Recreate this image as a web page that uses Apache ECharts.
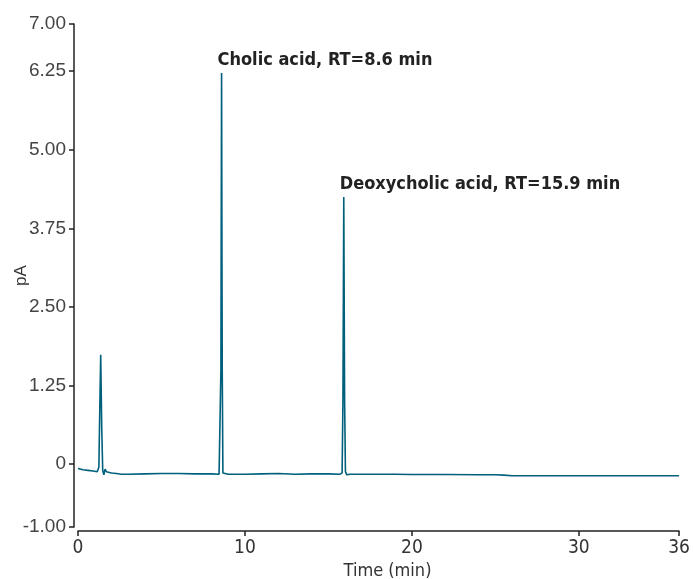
<!DOCTYPE html>
<html><head><meta charset="utf-8">
<script src="https://cdn.jsdelivr.net/npm/echarts@6/dist/echarts.min.js"></script>
<style>html,body{margin:0;padding:0;background:#fff}#c{width:693px;height:579px}</style>
</head><body><div id="c"></div>
<script>
// Retention time (min)
const time = [0, 0.3, 0.6, 0.9, 1.15, 1.25, 1.3, 1.36, 1.42, 1.48, 1.55, 1.62, 1.7, 1.8, 2.0, 2.3, 2.6, 3.0, 4, 5, 6, 7, 8,
  8.45, 8.52, 8.56, 8.6, 8.64, 8.68, 8.75, 9, 10, 11, 12, 13, 14, 15,
  15.7, 15.82, 15.87, 15.92, 15.97, 16.02, 16.1, 16.3, 17, 18, 19, 20, 22, 24, 25, 25.5, 26, 27, 28, 30, 32, 34, 36];
// Detector signal (pA)
const signal = [-0.07, -0.09, -0.10, -0.11, -0.12, -0.05, 0.8, 1.74, 0.6, -0.10, -0.17, -0.08, -0.12, -0.10, -0.14, -0.15, -0.16, -0.16, -0.155, -0.15, -0.15, -0.155, -0.155,
  -0.16, -0.14, 1.5, 6.22, 1.5, -0.14, -0.16, -0.16, -0.16, -0.155, -0.15, -0.16, -0.155, -0.155,
  -0.16, -0.14, 1.0, 4.25, 1.0, -0.12, -0.17, -0.16, -0.16, -0.16, -0.16, -0.165, -0.165, -0.17, -0.17, -0.175, -0.185, -0.185, -0.185, -0.185, -0.185, -0.185, -0.185];
const yTicks = [-1, 0, 1.25, 2.5, 3.75, 5, 6.25, 7];
const xTicks = [0, 10, 20, 30, 36];
const peakNames = ['Cholic acid, RT=8.6 min', 'Deoxycholic acid, RT=15.9 min'];
const peakTimes = [8.6, 15.92];
const peakHeights = [6.22, 4.25];

const data = time.map((t, i) => [t, signal[i]]);
const narrow = '"Liberation Sans Narrow", "DejaVu Sans Condensed", "Roboto", sans-serif';
const regular = '"Liberation Sans", Arial, sans-serif';
const chart = echarts.init(document.getElementById('c'), null, {renderer: 'canvas'});
chart.setOption({
  animation: false,
  backgroundColor: '#fff',
  grid: {left: 78, right: 14, top: 24, bottom: 52, containLabel: false, outerBoundsMode: 'none'},
  xAxis: {
    type: 'value', min: 0, max: 36, offset: 4,
    name: 'Time (min)', nameLocation: 'middle', nameGap: 31, nameMoveOverlap: false,
    nameTextStyle: {fontFamily: narrow, fontSize: 18, color: '#333', padding: [0, 0, 0, 18]},
    axisLine: {show: true, onZero: false, lineStyle: {color: '#222', width: 1.5}},
    axisTick: {show: true, length: 5, customValues: xTicks, lineStyle: {color: '#222', width: 1.5}},
    axisLabel: {customValues: xTicks, fontFamily: narrow, fontSize: 19, color: '#333', margin: 8},
    splitLine: {show: false}
  },
  yAxis: {
    type: 'value', min: -1, max: 7, offset: 4,
    name: 'pA', nameLocation: 'middle', nameGap: 44, nameRotate: 90, nameMoveOverlap: false,
    nameTextStyle: {fontFamily: regular, fontSize: 17, color: '#333'},
    axisLine: {show: true, onZero: false, lineStyle: {color: '#222', width: 1.5}},
    axisTick: {show: true, length: 5, customValues: yTicks, lineStyle: {color: '#222', width: 1.5}},
    axisLabel: {customValues: yTicks, fontFamily: regular, fontSize: 19, color: '#444', margin: 8,
      formatter: v => v === 0 ? '0' : v.toFixed(2)},
    splitLine: {show: false}
  },
  series: [{
    type: 'line', data: data, showSymbol: false, symbol: 'none',
    lineStyle: {color: '#00607c', width: 1.6},
    markPoint: {
      symbol: 'circle', symbolSize: 0,
      label: {show: true, position: [-4, -13], align: 'left', verticalAlign: 'middle',
        fontFamily: narrow, fontWeight: 'bold', fontSize: 18, color: '#222', formatter: p => p.name},
      data: peakNames.map((n, i) => ({name: n, coord: [peakTimes[i], peakHeights[i]]}))
    }
  }]
});
</script></body></html>
